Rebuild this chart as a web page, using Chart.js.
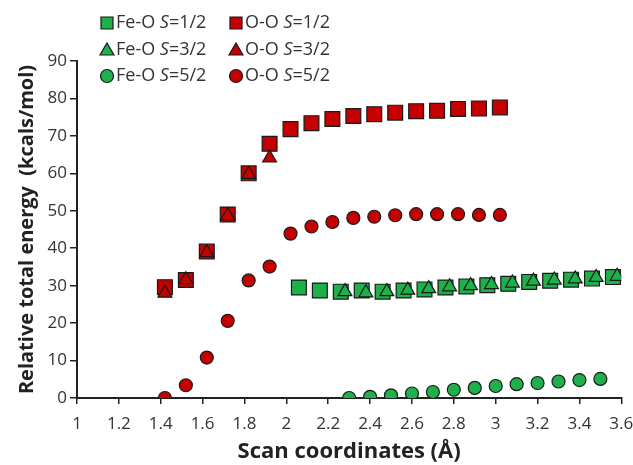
<!DOCTYPE html>
<html>
<head>
<meta charset="utf-8">
<script src="https://cdn.jsdelivr.net/npm/chart.js@4"></script>
<style>
  html, body { margin: 0; padding: 0; background: #fff; }
  #wrap { width: 633px; height: 465px; position: relative; }
</style>
</head>
<body>
<div id="wrap"><canvas id="scan-chart"></canvas></div>
<script>
// Fe-O scans
const feO12X = [2.06, 2.16, 2.26, 2.36, 2.46, 2.56, 2.66, 2.76, 2.86, 2.96, 3.06, 3.16, 3.26, 3.36, 3.46, 3.56];
const feO12Y = [29.5, 28.7, 28.4, 28.7, 28.4, 28.7, 29.0, 29.5, 29.8, 30.1, 30.5, 31.0, 31.3, 31.6, 31.9, 32.3];
const feO32X = [2.28, 2.38, 2.48, 2.58, 2.68, 2.78, 2.88, 2.98, 3.08, 3.18, 3.28, 3.38, 3.48, 3.58];
const feO32Y = [28.4, 28.1, 28.4, 28.8, 29.2, 29.7, 30.0, 30.3, 30.7, 31.2, 31.5, 31.8, 32.2, 32.5];
const feO52X = [2.3, 2.4, 2.5, 2.6, 2.7, 2.8, 2.9, 3.0, 3.1, 3.2, 3.3, 3.4, 3.5];
const feO52Y = [0, 0.3, 0.7, 1.2, 1.6, 2.2, 2.7, 3.2, 3.7, 4.0, 4.4, 4.8, 5.1];

// O-O scans
const ooX = [1.42, 1.52, 1.62, 1.72, 1.82, 1.92, 2.02, 2.12, 2.22, 2.32, 2.42, 2.52, 2.62, 2.72, 2.82, 2.92, 3.02];
const oo12Y = [29.6, 31.5, 39.1, 49.0, 60.0, 67.9, 71.8, 73.4, 74.5, 75.3, 75.8, 76.2, 76.6, 76.7, 77.2, 77.3, 77.6];
const oo32Y = [28.0, 31.6, 38.8, 48.7, 59.7, 64.1];
const oo52Y = [0, 3.4, 10.8, 20.6, 31.4, 35.1, 43.9, 45.8, 47.0, 48.1, 48.4, 48.8, 49.1, 49.1, 49.1, 48.9, 48.9];

const xTicks = [1, 1.2, 1.4, 1.6, 1.8, 2, 2.2, 2.4, 2.6, 2.8, 3, 3.2, 3.4, 3.6];
const yTicks = [0, 10, 20, 30, 40, 50, 60, 70, 80, 90];

const GREEN = '#1db04b';
const RED = '#c40000';
const EDGE = '#1a1a1a';

function pts(xs, ys) {
    return ys.map((y, i) => ({ x: xs[i], y: y }));
}

function series(label, xs, ys, color, style, radius, order) {
    return {
        label: label,
        data: pts(xs, ys),
        backgroundColor: color,
        borderColor: EDGE,
        borderWidth: 1.2,
        pointStyle: style,
        pointRadius: radius,
        pointHoverRadius: radius,
        showLine: false,
        order: order
    };
}

// legend drawn by hand so the S can be italic
const legendItems = [
    { col: 0, row: 0, name: 'Fe-O ', spin: '=1/2', color: GREEN, style: 'rect' },
    { col: 0, row: 1, name: 'Fe-O ', spin: '=3/2', color: GREEN, style: 'triangle' },
    { col: 0, row: 2, name: 'Fe-O ', spin: '=5/2', color: GREEN, style: 'circle' },
    { col: 1, row: 0, name: 'O-O ', spin: '=1/2', color: RED, style: 'rect' },
    { col: 1, row: 1, name: 'O-O ', spin: '=3/2', color: RED, style: 'triangle' },
    { col: 1, row: 2, name: 'O-O ', spin: '=5/2', color: RED, style: 'circle' }
];

function drawMarker(ctx, style, x, y, color) {
    ctx.beginPath();
    if (style === 'rect') {
        ctx.rect(x - 6, y - 6, 12, 12);
    } else if (style === 'triangle') {
        ctx.moveTo(x, y - 7);
        ctx.lineTo(x + 7, y + 5);
        ctx.lineTo(x - 7, y + 5);
        ctx.closePath();
    } else {
        ctx.arc(x, y, 6.5, 0, Math.PI * 2);
    }
    ctx.fillStyle = color;
    ctx.fill();
    ctx.lineWidth = 1.2;
    ctx.strokeStyle = EDGE;
    ctx.stroke();
}

const legendPlugin = {
    id: 'spinLegend',
    afterDraw(chart) {
        const ctx = chart.ctx;
        const colX = [107, 236];
        const rowY = [23, 50, 76];
        ctx.save();
        ctx.textBaseline = 'middle';
        ctx.textAlign = 'left';
        legendItems.forEach(item => {
            const mx = colX[item.col];
            const my = rowY[item.row];
            drawMarker(ctx, item.style, mx, my, item.color);
            let tx = mx + 9;
            ctx.fillStyle = '#333';
            ctx.font = '18px "Open Sans"';
            ctx.fillText(item.name, tx, my);
            tx += ctx.measureText(item.name).width;
            ctx.font = 'italic 18px "Open Sans"';
            ctx.fillText('S', tx, my);
            tx += ctx.measureText('S').width;
            ctx.font = '18px "Open Sans"';
            ctx.fillText(item.spin, tx, my);
        });
        ctx.restore();
    }
};

const ctx = document.getElementById('scan-chart').getContext('2d');
new Chart(ctx, {
    type: 'scatter',
    data: {
        datasets: [
            series('O-O S=3/2', ooX.slice(0, oo32Y.length), oo32Y, RED, 'triangle', 8, 1),
            series('O-O S=1/2', ooX, oo12Y, RED, 'rect', 10.5, 2),
            series('O-O S=5/2', ooX, oo52Y, RED, 'circle', 6.5, 3),
            series('Fe-O S=3/2', feO32X, feO32Y, GREEN, 'triangle', 8, 4),
            series('Fe-O S=1/2', feO12X, feO12Y, GREEN, 'rect', 10.5, 5),
            series('Fe-O S=5/2', feO52X, feO52Y, GREEN, 'circle', 6.5, 6)
        ]
    },
    options: {
        responsive: true,
        maintainAspectRatio: false,
        animation: false,
        layout: { padding: { top: 61, right: 9, left: 0, bottom: 0 } },
        plugins: {
            legend: { display: false },
            tooltip: { enabled: false }
        },
        scales: {
            x: {
                type: 'linear',
                min: 1,
                max: 3.6,
                afterBuildTicks: scale => { scale.ticks = xTicks.map(v => ({ value: v })); },
                afterFit: scale => {
                    scale.height = 67;
                    scale.paddingLeft = 0;
                    scale.paddingRight = 0;
                },
                ticks: {
                    color: '#333',
                    font: { family: 'Open Sans', size: 17 },
                    padding: 10,
                    maxRotation: 0,
                    autoSkip: false,
                    callback: v => String(v)
                },
                grid: { drawOnChartArea: false, drawTicks: true, tickLength: 6, color: '#222', lineWidth: 1.5 },
                border: { display: true, color: '#222', width: 2 },
                title: {
                    display: true,
                    text: 'Scan coordinates (Å)',
                    color: '#222',
                    font: { family: 'Open Sans', size: 22, weight: 'bold' },
                    padding: { top: 0, bottom: 0 }
                }
            },
            y: {
                type: 'linear',
                min: 0,
                max: 90,
                afterBuildTicks: scale => { scale.ticks = yTicks.map(v => ({ value: v })); },
                afterFit: scale => {
                    scale.width = 77;
                    scale.paddingTop = 0;
                    scale.paddingBottom = 0;
                },
                ticks: {
                    color: '#333',
                    font: { family: 'Open Sans', size: 17 },
                    padding: 3
                },
                grid: { drawOnChartArea: false, drawTicks: true, tickLength: 7, color: '#222', lineWidth: 1.5 },
                border: { display: true, color: '#222', width: 2 },
                title: {
                    display: true,
                    text: 'Relative total energy  (kcals/mol)',
                    color: '#222',
                    font: { family: 'Open Sans', size: 20, weight: 'bold' },
                    padding: { top: 15, bottom: 0 }
                }
            }
        }
    },
    plugins: [legendPlugin]
});
</script>
</body>
</html>
